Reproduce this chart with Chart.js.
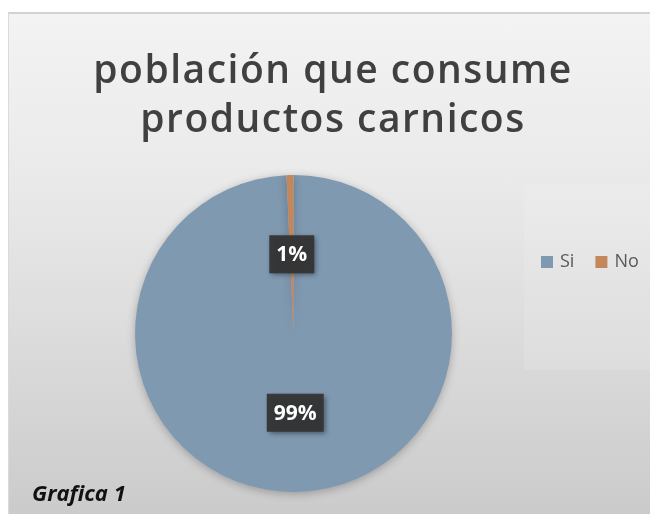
<!DOCTYPE html>
<html>
<head>
<meta charset="utf-8">
<script src="https://cdn.jsdelivr.net/npm/chart.js@4"></script>
<style>
  html, body { margin: 0; padding: 0; background: #ffffff; }
  #wrap {
    position: absolute; left: 8px; top: 12px; width: 642px; height: 502px;
    background: linear-gradient(to bottom, #f3f3f3 0%, #e9e9e9 35%, #d9d9d9 70%, #cbcbcb 100%);
    border-top: 2px solid #d2d2d2; border-left: 1px solid #dadada;
    box-sizing: border-box;
  }
  #chart { position: absolute; left: 0; top: 0; }
  #caption {
    position: absolute; left: 23px; top: 463px;
    font-family: "Open Sans", sans-serif; font-weight: bold; font-style: italic;
    font-size: 22px; color: #111;
  }
</style>
</head>
<body>
<div id="wrap">
  <canvas id="chart" width="641" height="500"></canvas>
  <div id="caption">Grafica 1</div>
</div>
<script>
const titleLines = ['población que consume', 'productos carnicos'];
const categories = ['Si', 'No'];
const shares = [99.3, 0.7];
const labelsShown = ['99%', '1%'];
const sliceColors = ['#7f99b1', '#c4875c'];

// title, percent boxes, legend and the lighter legend panel
const decorPlugin = {
    id: 'decor',
    beforeDraw(chart) {
        const ctx = chart.ctx;
        ctx.save();
        ctx.fillStyle = 'rgba(255,255,255,0.12)';
        ctx.fillRect(515, 171, 126, 185);

        ctx.fillStyle = '#404040';
        ctx.font = '600 39px "Open Sans", sans-serif';
        ctx.letterSpacing = '1.5px';
        ctx.textAlign = 'center';
        ctx.textBaseline = 'alphabetic';
        titleLines.forEach((t, i) => {
            ctx.fillText(t, 324, 69 + i * 49);
        });
        ctx.restore();
    },
    beforeDatasetsDraw(chart) {
        chart.ctx.save();
        chart.ctx.shadowColor = 'rgba(0,0,0,0.25)';
        chart.ctx.shadowBlur = 8;
        chart.ctx.shadowOffsetY = 2;
    },
    afterDatasetsDraw(chart) {
        const ctx = chart.ctx;
        ctx.restore();
        const meta = chart.getDatasetMeta(0);
        ctx.save();
        ctx.font = 'bold 21px "Open Sans", sans-serif';
        ctx.textAlign = 'center';
        ctx.textBaseline = 'middle';
        meta.data.forEach((arc, i) => {
            const p = arc.getProps(['x', 'y', 'startAngle', 'endAngle', 'outerRadius']);
            const mid = (p.startAngle + p.endAngle) / 2;
            const x = p.x + Math.cos(mid) * p.outerRadius * 0.5;
            const y = p.y + Math.sin(mid) * p.outerRadius * 0.5;
            const txt = labelsShown[i];
            const w = ctx.measureText(txt).width + 14;
            const h = 38;
            ctx.shadowColor = 'rgba(0,0,0,0.45)';
            ctx.shadowBlur = 5;
            ctx.shadowOffsetX = 2;
            ctx.shadowOffsetY = 2;
            ctx.fillStyle = 'rgba(52,52,52,0.95)';
            ctx.fillRect(x - w / 2, y - h / 2, w, h);
            ctx.shadowColor = 'transparent';
            ctx.fillStyle = '#ffffff';
            ctx.fillText(txt, x, y + 1);
        });

        // legend
        ctx.font = '18px "Open Sans", sans-serif';
        ctx.textAlign = 'left';
        ctx.textBaseline = 'middle';
        let lx = 532;
        const ly = 248;
        categories.forEach((c, i) => {
            ctx.fillStyle = sliceColors[i];
            ctx.fillRect(lx, ly - 6, 12, 12);
            ctx.fillStyle = '#595959';
            ctx.fillText(c, lx + 19, ly);
            lx += 19 + ctx.measureText(c).width + 21;
        });
        ctx.restore();
    }
};

const ctx = document.getElementById('chart').getContext('2d');
const pieChart = new Chart(ctx, {
    type: 'pie',
    data: {
        labels: categories,
        datasets: [{
            data: shares,
            backgroundColor: sliceColors,
            borderWidth: 0
        }]
    },
    options: {
        responsive: false,
        animation: false,
        layout: {
            padding: { left: 126, right: 198, top: 161, bottom: 22 }
        },
        plugins: {
            legend: { display: false },
            tooltip: { enabled: false },
            title: { display: false }
        }
    },
    plugins: [decorPlugin]
});
</script>
</body>
</html>
